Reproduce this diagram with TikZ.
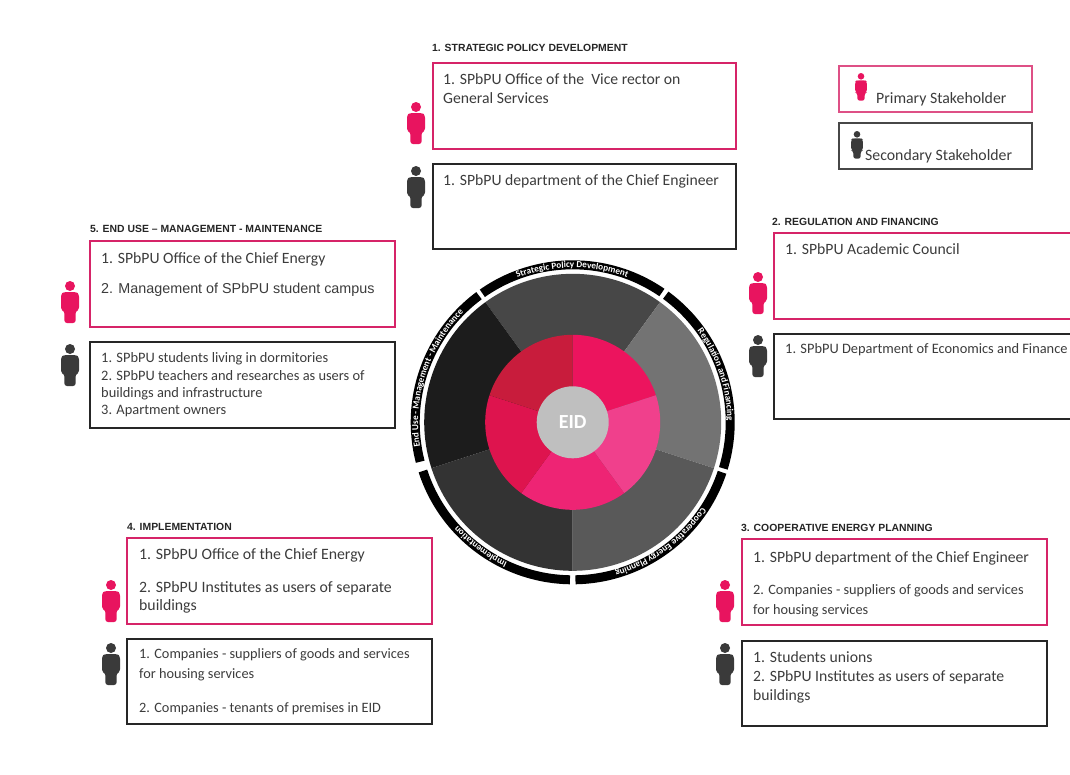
\documentclass[tikz,border=0pt]{standalone}
\usepackage{fontspec}
\setmainfont{Carlito}
\newfontfamily\arialf{Liberation Sans}
\usetikzlibrary{decorations.text}
\definecolor{pinkline}{HTML}{D62468}
\definecolor{darkline}{HTML}{262626}
\definecolor{bodytext}{HTML}{3C3C3C}
\definecolor{pinkicon}{HTML}{E8145F}
\definecolor{darkicon}{HTML}{3A3A3A}
\newcommand{\wheelfont}{\fontsize{9.2}{11}\selectfont\bfseries}
\newcommand{\bodyfont}[2]{\fontsize{#1}{#2}\selectfont}
\tikzset{
  pribox/.style={draw=pinkline,line width=2.4pt,anchor=north west,inner sep=0pt,outer sep=0pt,minimum width=303pt,minimum height=86pt},
  secbox/.style={draw=darkline,line width=2.2pt,anchor=north west,inner sep=0pt,outer sep=0pt,minimum width=303pt,minimum height=85pt},
  legbox/.style={line width=1.5pt,anchor=north west,inner sep=0pt,outer sep=0pt,minimum width=193pt,minimum height=46pt},
  heading/.style={anchor=west,inner sep=0pt,text=darkline,font=\fontsize{10.4}{12}\selectfont\arialf\bfseries},
  txt/.style={anchor=north west,inner sep=0pt,align=left,text=bodytext},
  person/.pic={
    \path[pic actions] (0,5) circle[radius=5];
    \path[pic actions,rounded corners=2.6pt] (-6,11) -- (-9,13) -- (-9,29) -- (-5.6,30) -- (-5.6,42) -- (5.6,42) -- (5.6,30) -- (9,29) -- (9,13) -- (6,11) -- cycle;
  },
  prim/.style={fill=pinkicon},
  seco/.style={fill=darkicon},
  wheelarc/.style={line width=9pt,draw=black},
  wheeltext/.style={decorate,decoration={text along path,text color=white,text align=center}}
}
\begin{document}
\begin{tikzpicture}[x=1pt,y=-1pt]
\useasboundingbox (0,0) rectangle (1070,774);
\fill[white] (0,0) rectangle (1070,774);

% --- boxes
\node[pribox] (p1) at (433,63) {};
\node[secbox] (s1) at (433,164) {};
\node[pribox,minimum width=310pt] (p2) at (774,233) {};
\node[secbox,minimum width=310pt] (s2) at (774,334) {};
\node[pribox,minimum width=305pt] (p5) at (90,241) {};
\node[secbox,minimum width=305pt,minimum height=86pt] (s5) at (90,342) {};
\node[pribox,minimum width=305pt] (p4) at (127,538) {};
\node[secbox,minimum width=305pt] (s4) at (127,639) {};
\node[pribox,minimum width=305pt] (p3) at (742,539) {};
\node[secbox,minimum width=305pt] (s3) at (742,641) {};
\node[legbox,draw=pinkline!80] (lp) at (839,66) {};
\node[legbox,draw=darkline!85] (ls) at (839,123) {};

% --- headings
\node[heading] (h1) at (432,48) {1. STRATEGIC POLICY DEVELOPMENT};
\node[heading] (h2) at (772,221.5) {2. REGULATION AND FINANCING};
\node[heading] (h3) at (741,528) {3. COOPERATIVE ENERGY PLANNING};
\node[heading] (h4) at (127,527) {4. IMPLEMENTATION};
\node[heading] (h5) at (90,229) {5. END USE – MANAGEMENT - MAINTENANCE};

% --- box texts
\node[txt,font=\bodyfont{15.7}{19}] (t1p) at (443,73) {1. SPbPU Office of the\ \ Vice rector on\\General Services};
\node[txt,font=\bodyfont{15.7}{19}] (t1s) at (443,174) {1. SPbPU department of the Chief Engineer};
\node[txt,font=\bodyfont{15.7}{19}] (t2p) at (785,243) {1. SPbPU Academic Council};
\node[txt,font=\bodyfont{14.4}{17}] (t2s) at (785,343.5) {1. SPbPU Department of Economics and Finance};
\node[txt,font=\bodyfont{15.7}{19}] (t5a) at (101,252) {1. SPbPU Office of the Chief Energy};
\node[txt,font=\bodyfont{14.35}{19}\arialf] (t5b) at (101,283) {2. Management of SPbPU student campus};
\node[txt,font=\bodyfont{14.4}{17.4}] (t5s) at (101,352.5) {1. SPbPU students living in dormitories\\2. SPbPU teachers and researches as users of\\buildings and infrastructure\\3. Apartment owners};
\node[txt,font=\bodyfont{15.8}{18.2}] (t4p) at (139,548) {1. SPbPU Office of the Chief Energy\\[14.8pt]2. SPbPU Institutes as users of separate\\buildings};
\node[txt,font=\bodyfont{14.3}{20}] (t4s) at (139,648.5) {1. Companies - suppliers of goods and services\\for housing services\\[14pt]2. Companies - tenants of premises in EID};
\node[txt,font=\bodyfont{15.7}{19}] (t3a) at (753,551) {1. SPbPU department of the Chief Engineer};
\node[txt,font=\bodyfont{14.3}{20}] (t3b) at (753,584.5) {2. Companies - suppliers of goods and services\\for housing services};
\node[txt,font=\bodyfont{15.7}{19}] (t3s) at (753,651) {1. Students unions\\2. SPbPU Institutes as users of separate\\buildings};
\node[txt,font=\bodyfont{15.8}{17}] (tlp) at (876,92) {Primary Stakeholder};
\node[txt,font=\bodyfont{15.8}{17}] (tls) at (865,149) {Secondary Stakeholder};

% --- person icons
\pic[prim] at (416,102) {person};
\pic[seco] at (416,166) {person};
\pic[prim] at (758,272) {person};
\pic[seco] at (758,335) {person};
\pic[prim] at (70,281) {person};
\pic[seco] at (70,344) {person};
\pic[prim] at (111,580) {person};
\pic[seco] at (111,643) {person};
\pic[prim] at (725,580) {person};
\pic[seco] at (725,643) {person};
\pic[prim,scale=0.66] at (861,73) {person};
\pic[seco,scale=0.66] at (857,131) {person};

% --- wheel
\begin{scope}[shift={(572.7,422.3)},y=1pt]
  \fill[fill=black!72]  (0,0) -- (54:148.5) arc[start angle=54,end angle=126,radius=148.5] -- cycle;
  \fill[fill=black!55]  (0,0) -- (-18:148.5) arc[start angle=-18,end angle=54,radius=148.5] -- cycle;
  \fill[fill=black!65]  (0,0) -- (-90:148.5) arc[start angle=-90,end angle=-18,radius=148.5] -- cycle;
  \fill[fill=black!80]  (0,0) -- (198:148.5) arc[start angle=198,end angle=270,radius=148.5] -- cycle;
  \fill[fill=black!89]  (0,0) -- (126:148.5) arc[start angle=126,end angle=198,radius=148.5] -- cycle;
  \fill[fill={rgb,255:red,236;green,20;blue,94}]  (0,0) -- (18:87.5) arc[start angle=18,end angle=90,radius=87.5] -- cycle;
  \fill[fill={rgb,255:red,240;green,64;blue,140}] (0,0) -- (-54:87.5) arc[start angle=-54,end angle=18,radius=87.5] -- cycle;
  \fill[fill={rgb,255:red,238;green,36;blue,116}] (0,0) -- (-126:87.5) arc[start angle=-126,end angle=-54,radius=87.5] -- cycle;
  \fill[fill={rgb,255:red,222;green,20;blue,78}]  (0,0) -- (162:87.5) arc[start angle=162,end angle=234,radius=87.5] -- cycle;
  \fill[fill={rgb,255:red,200;green,28;blue,60}]  (0,0) -- (90:87.5) arc[start angle=90,end angle=162,radius=87.5] -- cycle;
  \node[circle,fill=black!25,minimum size=72pt,inner sep=0pt,text=white,font=\fontsize{20}{22}\selectfont\bfseries] (eid) at (0,0) {EID};

  \draw[wheelarc] (125:157.5) arc[start angle=125,end angle=55.5,radius=157.5];
  \draw[wheelarc] (53.8:157.5) arc[start angle=53.8,end angle=-17,radius=157.5];
  \draw[wheelarc] (-18.5:157.5) arc[start angle=-18.5,end angle=-89,radius=157.5];
  \draw[wheelarc] (-91:157.5) arc[start angle=-91,end angle=-162,radius=157.5];
  \draw[wheelarc] (194.5:157.5) arc[start angle=194.5,end angle=126.5,radius=157.5];

  \path[wheeltext,decoration={text={|\wheelfont|Strategic Policy Development}}] (125:154.6) arc[start angle=125,end angle=55.5,radius=154.6];
  \path[wheeltext,decoration={text={|\wheelfont|Regulation and Financing}}] (53.8:154.6) arc[start angle=53.8,end angle=-17,radius=154.6];
  \path[wheeltext,decoration={text={|\wheelfont|Cooperative Energy Planning}}] (-18.5:154.6) arc[start angle=-18.5,end angle=-89,radius=154.6];
  \path[wheeltext,decoration={text={|\wheelfont|Implementation}}] (-91:154.6) arc[start angle=-91,end angle=-162,radius=154.6];
  \path[wheeltext,decoration={text={|\wheelfont|End Use - Management - Maintenance}}] (197:154.6) arc[start angle=197,end angle=127,radius=154.6];
\end{scope}
\end{tikzpicture}
\end{document}
